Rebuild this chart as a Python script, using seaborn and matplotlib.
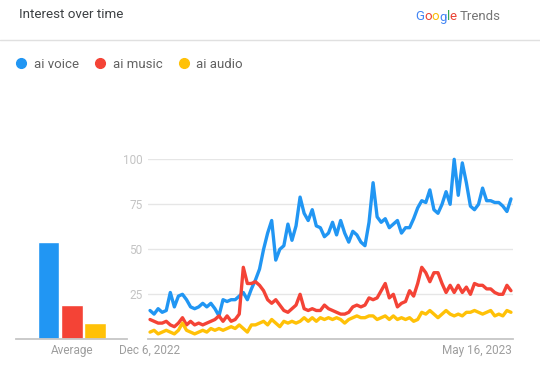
import pandas as pd
import numpy as np
import matplotlib.pyplot as plt
import seaborn as sb
from matplotlib.lines import Line2D

# Search terms, colours and the average bars
terms = ["ai voice", "ai music", "ai audio"]
colors = ["#2196F3", "#F44336", "#FFC107"]
averages = [54, 19, 9]

# Interest over time, one value every 2 days from Dec 6, 2022
start_date = "2022-12-06"
ai_voice = [16, 14, 17, 15, 16, 26, 18, 24, 25, 22,
            18, 17, 18, 20, 18, 20, 17, 13, 22, 21,
            22, 22, 24, 26, 22, 28, 33, 39, 50, 59,
            66, 44, 50, 52, 64, 55, 63, 79, 70, 66,
            72, 63, 62, 57, 59, 65, 58, 66, 59, 54,
            60, 58, 54, 52, 65, 87, 68, 65, 67, 62,
            64, 66, 59, 62, 62, 67, 73, 77, 76, 83,
            72, 70, 75, 82, 75, 100, 80, 98, 87, 74,
            72, 75, 84, 77, 77, 76, 76, 74, 71, 78]
ai_music = [11, 10, 9, 9, 10, 8, 7, 9, 12, 8,
            10, 8, 9, 8, 9, 10, 11, 13, 10, 13,
            10, 11, 14, 40, 31, 31, 32, 30, 27, 22,
            20, 22, 19, 16, 15, 17, 19, 25, 17, 16,
            17, 16, 16, 19, 17, 16, 15, 14, 14, 15,
            18, 19, 18, 19, 23, 22, 23, 27, 31, 23,
            25, 18, 20, 21, 27, 24, 31, 40, 37, 32,
            37, 37, 31, 26, 30, 26, 30, 26, 29, 25,
            31, 30, 30, 28, 28, 26, 25, 25, 30, 27]
ai_audio = [4, 5, 3, 4, 5, 4, 3, 5, 9, 5,
            4, 3, 4, 5, 4, 6, 5, 6, 5, 6,
            7, 6, 8, 6, 4, 8, 8, 9, 10, 8,
            11, 9, 7, 10, 9, 10, 9, 10, 12, 10,
            12, 10, 12, 11, 12, 11, 12, 11, 9, 11,
            12, 13, 12, 12, 13, 13, 11, 12, 13, 11,
            13, 11, 12, 11, 12, 10, 11, 15, 14, 16,
            14, 12, 14, 16, 14, 13, 14, 13, 15, 15,
            16, 15, 14, 15, 16, 13, 14, 13, 16, 15]

tick_dates = ["2022-12-06", "2023-05-16"]
tick_labels = ["Dec 6, 2022", "May 16, 2023"]

dates = pd.date_range(start_date, periods=len(ai_voice), freq="2D")
df = pd.DataFrame({"date": dates, "ai voice": ai_voice,
                   "ai music": ai_music, "ai audio": ai_audio})
df = df.melt(id_vars="date", var_name="term", value_name="interest")

sb.set_style("white")
plt.rcParams["font.family"] = ["Roboto", "DejaVu Sans"]

W, H = 540, 371
fig = plt.figure(figsize=(5.4, 3.71), dpi=100)

def fy(py):
    return 1 - py / H

bottom = fy(339.3)
height = 180 / H

# Average bars on the left
ax_bar = fig.add_axes([16 / W, bottom, 111 / W, height])
sb.barplot(x=terms, y=averages, hue=terms, palette=colors, width=0.92,
           saturation=1, legend=False, ax=ax_bar)
ax_bar.set_xlim(-1.395, 3.37)
ax_bar.set_ylim(0, 100)
ax_bar.set_xticks([1])
ax_bar.set_xticklabels(["Average"])
ax_bar.set_yticks([])
ax_bar.set_xlabel("")
ax_bar.set_ylabel("")
ax_bar.tick_params(axis="x", length=0, pad=3.5, colors="#9e9e9e", labelsize=8.5)
for s in ["top", "left", "right"]:
    ax_bar.spines[s].set_visible(False)
ax_bar.spines["bottom"].set_color("#c6c6c6")
ax_bar.spines["bottom"].set_linewidth(1.3)
ax_bar.patch.set_alpha(0)

# Main line chart
ax = fig.add_axes([148 / W, bottom, 365 / W, height])
sb.lineplot(data=df, x="date", y="interest", hue="term", palette=colors,
            linewidth=2.4, legend=False, ax=ax)
for line in ax.lines:
    line.set_clip_on(False)
    line.set_solid_joinstyle("round")
ax.set_xlim(dates[0] - pd.Timedelta(days=1), dates[-1] + pd.Timedelta(days=1))
ax.set_ylim(0, 100)
ax.set_yticks([25, 50, 75, 100])
ax.set_xticks(pd.to_datetime(tick_dates))
ax.set_xticklabels(tick_labels)
ax.set_xlabel("")
ax.set_ylabel("")
ax.grid(axis="y", color="#e6e6e6", linewidth=1)
ax.tick_params(axis="y", length=0, pad=4, colors="#c4c4c4", labelsize=8.5)
ax.tick_params(axis="x", length=0, pad=3.5, colors="#9e9e9e", labelsize=8.5)
for s in ["top", "left", "right"]:
    ax.spines[s].set_visible(False)
ax.spines["bottom"].set_color("#c6c6c6")
ax.spines["bottom"].set_linewidth(1.3)
ax.patch.set_alpha(0)

# Header
fig.text(19 / W, fy(15), "Interest over time", va="center", fontsize=9.6, color="#3c4043")
renderer = fig.canvas.get_renderer()
x = 415 / W
for ch, c in zip("Google", ["#4285F4", "#EA4335", "#FBBC05", "#4285F4", "#34A853", "#EA4335"]):
    t = fig.text(x, fy(17), ch, va="center", fontsize=9.5, color=c)
    x = t.get_window_extent(renderer).x1 / fig.bbox.width
fig.text(x + 3 / W, fy(17), "Trends", va="center", fontsize=9.5, color="#757575")
fig.add_artist(Line2D([0, 1], [fy(40), fy(40)], color="#e0e0e0", lw=1,
                      transform=fig.transFigure))

# Legend
handles = [Line2D([], [], marker="o", ls="", color=c, markersize=7) for c in colors]
fig.legend(handles, terms, loc="center left", bbox_to_anchor=(3 / W, fy(64)),
           ncol=3, frameon=False, fontsize=9.5, handlelength=1, handletextpad=0.45,
           columnspacing=1.1, labelcolor="#616161")

fig.savefig("out.png", dpi=100)
